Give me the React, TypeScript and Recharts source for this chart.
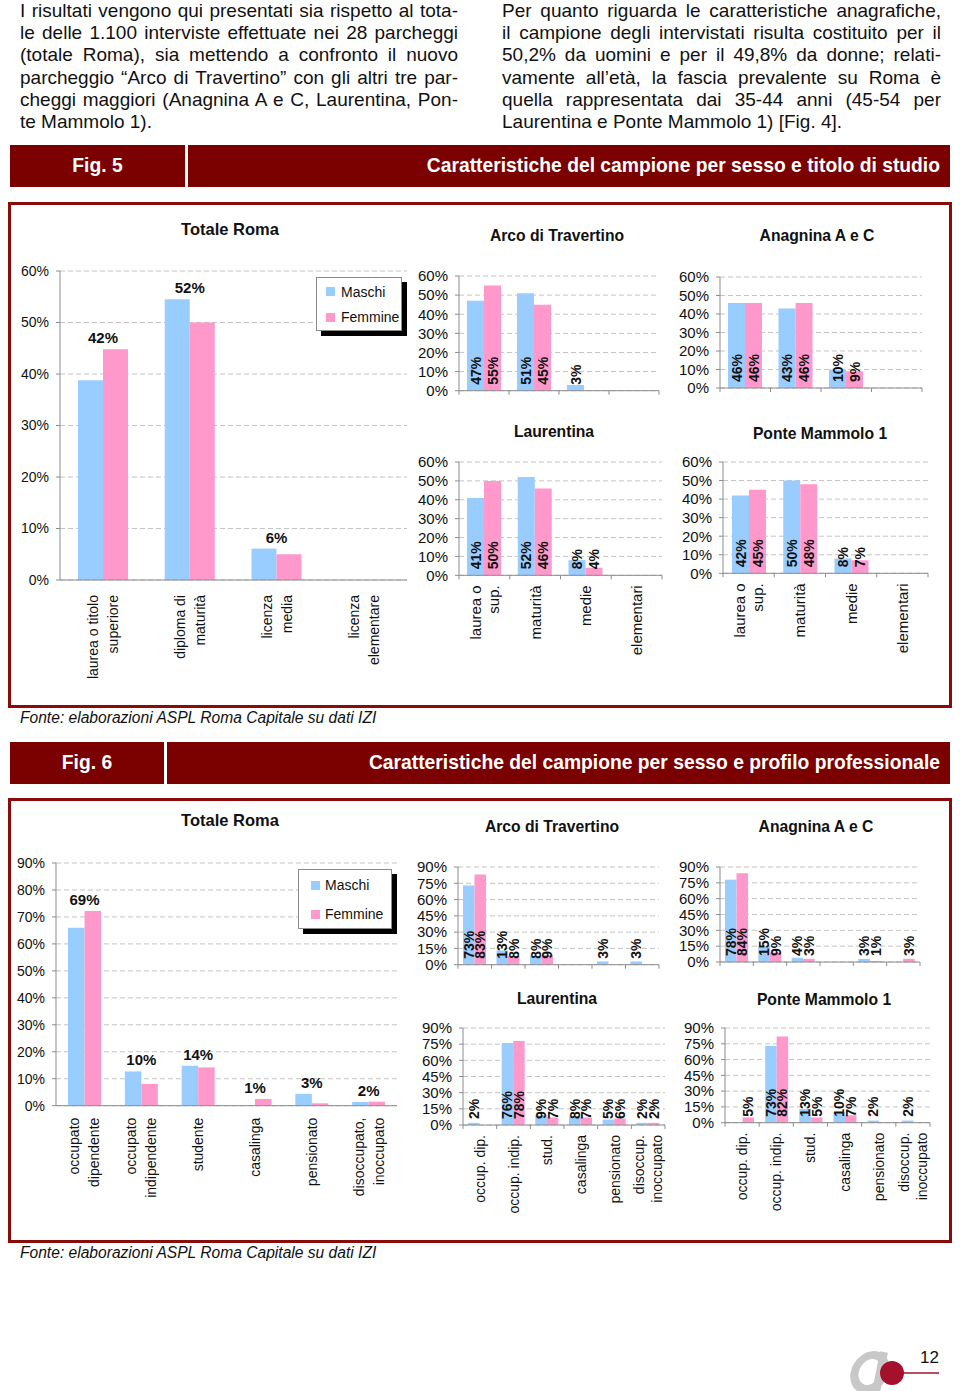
import React from "react";
import { BarChart, Bar, XAxis, YAxis, CartesianGrid, LabelList, Legend } from "recharts";

const MASCHI = "#99ccff";
const FEMMINE = "#ff99cc";
const DARK_RED = "#7b0000";
const FONT = "'Liberation Sans', Arial, Helvetica, sans-serif";

const ticks60 = [0, 10, 20, 30, 40, 50, 60];
const ticks90 = [0, 10, 20, 30, 40, 50, 60, 70, 80, 90];
const ticks90by15 = [0, 15, 30, 45, 60, 75, 90];

// Fig. 5 - titolo di studio
const studioCats = [["laurea o titolo", "superiore"], ["diploma di", "maturità"], ["licenza", "media"], ["licenza", "elementare"]];
const studioCatsShort = [["laurea o", "sup."], ["maturità"], ["medie"], ["elementari"]];
const romaStudioM = [38.8, 54.5, 6.1, 0];
const romaStudioF = [44.8, 50, 5, 0];
const romaStudioTot = ["42%", "52%", "6%", ""];
const arcoStudioM = [47, 51, 3, 0];
const arcoStudioF = [55, 45, 0, 0];
const anagStudioM = [46, 43, 10, 0];
const anagStudioF = [46, 46, 9, 0];
const laurStudioM = [41, 52, 8, 0];
const laurStudioF = [50, 46, 4, 0];
const ponteStudioM = [42, 50, 8, 0];
const ponteStudioF = [45, 48, 7, 0];

// Fig. 6 - profilo professionale
const profCats = [["occupato", "dipendente"], ["occupato", "indipendente"], ["studente"], ["casalinga"], ["pensionato"], ["disoccupato,", "inoccupato"]];
const profCatsShort = [["occup. dip."], ["occup. indip."], ["stud."], ["casalinga"], ["pensionato"], ["disoccup.", "inoccupato"]];
const romaProfM = [66, 12.7, 14.8, 0, 4.4, 1.4];
const romaProfF = [72.2, 8.1, 14.2, 2.5, 0.9, 1.5];
const romaProfTot = ["69%", "10%", "14%", "1%", "3%", "2%"];
const arcoProfM = [73, 13, 8, 0, 3, 3];
const arcoProfF = [83, 8, 9, 0, 0, 0];
const anagProfM = [78, 15, 4, 0, 3, 0];
const anagProfF = [84, 9, 3, 0, 1, 3];
const laurProfM = [2, 76, 9, 8, 5, 2];
const laurProfF = [0, 78, 7, 7, 6, 2];
const ponteProfM = [0, 73, 13, 10, 2, 2];
const ponteProfF = [5, 82, 5, 7, 0, 0];

const leftText = [
  "I risultati vengono qui presentati sia rispetto al tota-",
  "le delle 1.100 interviste effettuate nei 28 parcheggi",
  "(totale Roma), sia mettendo a confronto il nuovo",
  "parcheggio “Arco di Travertino” con gli altri tre par-",
  "cheggi maggiori (Anagnina A e C, Laurentina, Pon-",
  "te Mammolo 1).",
];
const rightText = [
  "Per quanto riguarda le caratteristiche anagrafiche,",
  "il campione degli intervistati risulta costituito per il",
  "50,2% da uomini e per il 49,8% da donne; relati-",
  "vamente all’età, la fascia prevalente su Roma è",
  "quella rappresentata dai 35-44 anni (45-54 per",
  "Laurentina e Ponte Mammolo 1) [Fig. 4].",
];

const fonte = "Fonte: elaborazioni ASPL Roma Capitale su dati IZI";

type LegendCfg = { x: number; y: number; w: number; h: number; row: number; pad: number; indent: number; gap: number };

type PanelProps = {
  cats: string[][];
  m: number[];
  f: number[];
  tot?: string[];
  plot: [number, number, number, number];
  yMax: number;
  ticks: number[];
  yW: number;
  xH: number;
  barSize: number;
  showCats?: boolean;
  bounds?: boolean;
  inside?: boolean;
  catFont?: number;
  catGap?: number;
  lineH?: number;
  tickFont?: number;
  legend?: LegendCfg;
};

const rect = (p: any) => ({
  x: p.viewBox?.x ?? p.x,
  y: p.viewBox?.y ?? p.y,
  width: p.viewBox?.width ?? p.width,
  height: p.viewBox?.height ?? p.height,
});

function Panel(props: PanelProps) {
  const {
    cats, m, f, tot, plot, yMax, ticks, yW, xH, barSize,
    showCats = false, bounds = false, inside = false,
    catFont = 14, catGap = 10, lineH = 18, tickFont = 15, legend,
  } = props;
  const [x0, x1, y0, y1] = plot;
  const n = cats.length;
  const band = (x1 - x0) / n;
  const rows = cats.map((c, i) => ({ cat: c.join(" "), m: m[i], f: f[i], tot: tot ? tot[i] : "" }));
  const top = 10;
  const right = 6;
  const width = yW + (x1 - x0) + right;
  const height = top + (y1 - y0) + xH;

  const tick = (p: any) => {
    const { x, y, index } = p;
    const lines = cats[index] || [];
    return (
      <g>
        {bounds && <line x1={x - band / 2} x2={x - band / 2} y1={y} y2={y + 4} stroke="#8c8c8c" />}
        {bounds && index === n - 1 && <line x1={x + band / 2} x2={x + band / 2} y1={y} y2={y + 4} stroke="#8c8c8c" />}
        {showCats && (
          <text transform={`translate(${x},${y + catGap}) rotate(-90)`} textAnchor="end" fontSize={catFont} fill="#111">
            {lines.map((l, k) => (
              <tspan key={k} x={0} y={(k - (lines.length - 1) / 2) * lineH} dy="0.36em">
                {l}
              </tspan>
            ))}
          </text>
        )}
      </g>
    );
  };

  const insideLabel = (p: any) => {
    if (!p.value) return null;
    const r = rect(p);
    const cx = r.x + r.width / 2;
    const by = r.y + r.height - 6;
    return (
      <text transform={`translate(${cx},${by}) rotate(-90)`} dy="0.36em" textAnchor="start" fontSize={14} fontWeight="bold" fill="#111">
        {`${p.value}%`}
      </text>
    );
  };

  const totLabel = (p: any) => {
    const r = rect(p);
    const idx = Math.floor((r.x - yW) / band);
    const row = rows[idx];
    if (!row || !row.tot || !row.f) return null;
    const base = r.y + r.height;
    const yTop = base - (Math.max(row.m, row.f) * r.height) / row.f;
    return (
      <text x={r.x} y={yTop - 6} textAnchor="middle" fontSize={15} fontWeight="bold" fill="#111">
        {row.tot}
      </text>
    );
  };

  const legendBox = (p: any) => {
    if (!legend) return null;
    const items = [...(p.payload || [])].sort((a: any, b: any) => (a.dataKey === "m" ? -1 : b.dataKey === "m" ? 1 : 0));
    return (
      <div
        style={{
          width: legend.w,
          height: legend.h,
          boxSizing: "border-box",
          background: "#fff",
          border: "1px solid #8a8a8a",
          boxShadow: "5px 5px 0 #000",
          paddingTop: legend.pad,
          fontSize: 14,
          color: "#111",
          fontFamily: FONT,
        }}
      >
        {items.map((e: any) => (
          <div key={e.value} style={{ display: "flex", alignItems: "center", height: legend.row, paddingLeft: legend.indent, whiteSpace: "nowrap" }}>
            <span style={{ display: "inline-block", width: 9, height: 9, background: e.color, marginRight: legend.gap }} />
            <span>{e.value}</span>
          </div>
        ))}
      </div>
    );
  };

  return (
    <div style={{ position: "absolute", left: x0 - yW, top: y0 - top }}>
      <BarChart width={width} height={height} data={rows} margin={{ top, right, left: 0, bottom: 0 }} barGap={0}>
        <CartesianGrid vertical={false} stroke="#c4c4c4" strokeDasharray="5 3" />
        <XAxis
          dataKey="cat"
          height={xH}
          interval={0}
          tickLine={false}
          tickSize={0}
          tickMargin={0}
          axisLine={{ stroke: "#8c8c8c" }}
          tick={tick}
        />
        <YAxis
          width={yW}
          domain={[0, yMax]}
          ticks={ticks}
          interval={0}
          tickFormatter={(v: number) => `${v}%`}
          axisLine={{ stroke: "#8c8c8c" }}
          tickLine={{ stroke: "#8c8c8c" }}
          tickSize={4}
          tickMargin={7}
          tick={{ fontSize: tickFont, fill: "#111" }}
        />
        <Bar dataKey="m" name="Maschi" fill={MASCHI} barSize={barSize} isAnimationActive={false}>
          {inside && <LabelList dataKey="m" content={insideLabel} />}
        </Bar>
        <Bar dataKey="f" name="Femmine" fill={FEMMINE} barSize={barSize} isAnimationActive={false}>
          {inside && <LabelList dataKey="f" content={insideLabel} />}
          {tot && <LabelList dataKey="f" content={totLabel} />}
        </Bar>
        {legend && (
          <Legend
            layout="vertical"
            align="center"
            verticalAlign="middle"
            wrapperStyle={{ left: legend.x - (x0 - yW), top: legend.y - (y0 - top), width: legend.w + 6, height: legend.h + 6 }}
            content={legendBox}
          />
        )}
      </BarChart>
    </div>
  );
}

function Para({ lines, left, width }: { lines: string[]; left: number; width: number }) {
  return (
    <div style={{ position: "absolute", left, top: 0, width, fontSize: 19, lineHeight: "22.2px", color: "#111" }}>
      {lines.map((l, i) => {
        const last = i === lines.length - 1;
        return (
          <div key={i} style={{ textAlign: last ? "left" : "justify", textAlignLast: last ? "left" : "justify" } as any}>
            {l}
          </div>
        );
      })}
    </div>
  );
}

function FigHeader({ top, split, fig, title }: { top: number; split: number; fig: string; title: string }) {
  const common: React.CSSProperties = {
    position: "absolute",
    top,
    height: 42,
    background: DARK_RED,
    color: "#fff",
    fontWeight: "bold",
    fontSize: 19.3,
    lineHeight: "42px",
    boxSizing: "border-box",
    whiteSpace: "nowrap",
  };
  return (
    <>
      <div style={{ ...common, left: 10, width: split - 10, textAlign: "center" }}>{fig}</div>
      <div style={{ ...common, left: split + 3, width: 950 - split - 3, textAlign: "right", paddingRight: 10 }}>{title}</div>
    </>
  );
}

function Title({ cx, cy, text, size }: { cx: number; cy: number; text: string; size: number }) {
  return (
    <div
      style={{
        position: "absolute",
        left: cx - 120,
        top: cy - 10,
        width: 240,
        lineHeight: "20px",
        textAlign: "center",
        fontWeight: "bold",
        fontSize: size,
        color: "#111",
      }}
    >
      {text}
    </div>
  );
}

function Box({ top, height }: { top: number; height: number }) {
  return (
    <div
      style={{
        position: "absolute",
        left: 8,
        top,
        width: 944,
        height,
        border: "3px solid #8b0b0b",
        boxSizing: "border-box",
      }}
    />
  );
}

function Fonte({ top }: { top: number }) {
  return (
    <div style={{ position: "absolute", left: 20, top, fontSize: 15.6, lineHeight: "18px", fontStyle: "italic", color: "#111" }}>
      {fonte}
    </div>
  );
}

export default function App() {
  return (
    <div
      style={{
        position: "absolute",
        left: 0,
        top: 0,
        width: 960,
        height: 1391,
        background: "#fff",
        overflow: "hidden",
        fontFamily: FONT,
      }}
    >
      <Para lines={leftText} left={20} width={438} />
      <Para lines={rightText} left={502} width={439} />

      {/* Fig. 5 */}
      <FigHeader top={145} split={185} fig="Fig. 5" title="Caratteristiche del campione per sesso e titolo di studio" />
      <Box top={202} height={506} />
      <Title cx={230} cy={229} text="Totale Roma" size={16.5} />
      <Title cx={557} cy={236} text="Arco di Travertino" size={15.7} />
      <Title cx={817} cy={236} text="Anagnina A e C" size={15.7} />
      <Title cx={554} cy={432} text="Laurentina" size={15.7} />
      <Title cx={820} cy={434} text="Ponte Mammolo 1" size={15.7} />

      <Panel
        cats={studioCats} m={romaStudioM} f={romaStudioF} tot={romaStudioTot}
        plot={[60, 407, 271, 580]} yMax={60} ticks={ticks60} yW={60} xH={115} barSize={25}
        showCats catFont={14} catGap={15} lineH={20} tickFont={14}
        legend={{ x: 316, y: 277, w: 86, h: 54, row: 25.5, pad: 1, indent: 9, gap: 6 }}
      />
      <Panel cats={studioCatsShort} m={arcoStudioM} f={arcoStudioF} plot={[459, 659, 276, 390.7]} yMax={60} ticks={ticks60} yW={50} xH={10} barSize={17} bounds inside />
      <Panel cats={studioCatsShort} m={anagStudioM} f={anagStudioF} plot={[720, 922, 277, 388]} yMax={60} ticks={ticks60} yW={50} xH={10} barSize={17} bounds inside />
      <Panel cats={studioCatsShort} m={laurStudioM} f={laurStudioF} plot={[459, 662, 461.7, 575]} yMax={60} ticks={ticks60} yW={50} xH={95} barSize={17} bounds inside showCats catFont={15} catGap={10} lineH={18} />
      <Panel cats={studioCatsShort} m={ponteStudioM} f={ponteStudioF} plot={[723, 928, 461.7, 573]} yMax={60} ticks={ticks60} yW={50} xH={95} barSize={17} bounds inside showCats catFont={15} catGap={10} lineH={18} />
      <Fonte top={709} />

      {/* Fig. 6 */}
      <FigHeader top={742} split={164} fig="Fig. 6" title="Caratteristiche del campione per sesso e profilo professionale" />
      <Box top={798} height={445} />
      <Title cx={230} cy={820} text="Totale Roma" size={16.5} />
      <Title cx={552} cy={827} text="Arco di Travertino" size={15.7} />
      <Title cx={816} cy={827} text="Anagnina A e C" size={15.7} />
      <Title cx={557} cy={999} text="Laurentina" size={15.7} />
      <Title cx={824} cy={1000} text="Ponte Mammolo 1" size={15.7} />

      <Panel
        cats={profCats} m={romaProfM} f={romaProfF} tot={romaProfTot}
        plot={[56, 397, 863.3, 1106]} yMax={90} ticks={ticks90} yW={56} xH={120} barSize={16.5}
        showCats catFont={14} catGap={12} lineH={20} tickFont={14}
        legend={{ x: 298, y: 869, w: 94, h: 60, row: 29, pad: 1, indent: 12, gap: 5 }}
      />
      <Panel cats={profCatsShort} m={arcoProfM} f={arcoProfF} plot={[458, 659, 867.3, 965]} yMax={90} ticks={ticks90by15} yW={50} xH={10} barSize={11.5} bounds inside />
      <Panel cats={profCatsShort} m={anagProfM} f={anagProfF} plot={[720, 920, 867, 962]} yMax={90} ticks={ticks90by15} yW={50} xH={10} barSize={11.5} bounds inside />
      <Panel cats={profCatsShort} m={laurProfM} f={laurProfF} plot={[463, 665, 1028, 1125]} yMax={90} ticks={ticks90by15} yW={50} xH={105} barSize={11.5} bounds inside showCats catFont={14} catGap={10} lineH={18} />
      <Panel cats={profCatsShort} m={ponteProfM} f={ponteProfF} plot={[725, 930, 1028, 1122.7]} yMax={90} ticks={ticks90by15} yW={50} xH={105} barSize={11.5} bounds inside showCats catFont={14} catGap={10} lineH={18} />
      <Fonte top={1244} />

      {/* page footer */}
      <svg style={{ position: "absolute", left: 840, top: 1338 }} width={110} height={56}>
        <ellipse cx={30} cy={34} rx={15} ry={17} fill="none" stroke="#c8c8c8" strokeWidth={8} transform="skewX(-12) translate(7,0)" />
        <path d="M44 14 L36 54" stroke="#c8c8c8" strokeWidth={8} />
        <circle cx={52} cy={35} r={12} fill="#a3122a" />
        <line x1={58} y1={35} x2={99} y2={35} stroke="#a3122a" strokeWidth={1.5} />
      </svg>
      <div style={{ position: "absolute", left: 920, top: 1349, fontSize: 17, lineHeight: "18px", color: "#111" }}>12</div>
    </div>
  );
}
